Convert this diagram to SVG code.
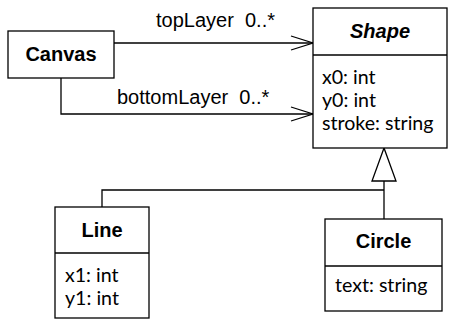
<svg xmlns="http://www.w3.org/2000/svg" width="450" height="326" viewBox="0 0 450 326">
<style>
.box{fill:#fff;stroke:#000;stroke-width:1.3}
.div{stroke:#000;stroke-width:1.3}
.title{font-family:"Liberation Sans",Arial,sans-serif;font-weight:bold;font-size:20px;text-anchor:middle;fill:#000}
.attr{font-family:Lato,"Liberation Sans",sans-serif;font-size:19.6px;fill:#000}
.lbl{font-family:"Liberation Sans",Arial,sans-serif;font-size:20px;fill:#000}
.conn{fill:none;stroke:#000;stroke-width:1.3}
</style>
<rect width="450" height="326" fill="#fff"/>
<g id="connectors">
<line class="conn" x1="114" y1="43" x2="313" y2="43"/>
<polyline class="conn" points="291,36 313,43 291,50"/>
<polyline class="conn" points="61,78 61,114 313,114"/>
<polyline class="conn" points="291,107 313,114 291,121"/>
<polyline class="conn" points="102,207 102,190 384,190"/>
<line class="conn" x1="384" y1="219" x2="384" y2="181"/>
<polygon points="384,148 372,181 396,181" fill="#fff" stroke="#000" stroke-width="1.3"/>
<text class="lbl" x="156" y="27" xml:space="preserve">topLayer  0..*</text>
<text class="lbl" x="117" y="104" xml:space="preserve">bottomLayer  0..*</text>
</g>
<g id="canvas">
<rect class="box" x="8" y="31" width="106" height="47"/>
<text class="title" x="61" y="61">Canvas</text>
</g>
<g id="shape">
<rect class="box" x="313" y="8" width="134" height="140"/>
<line class="div" x1="313" y1="55" x2="447" y2="55"/>
<text class="title" x="380" y="38" font-style="italic">Shape</text>
<text class="attr" x="322" y="84">x0: int</text>
<text class="attr" x="322" y="107">y0: int</text>
<text class="attr" x="322" y="130">stroke: string</text>
</g>
<g id="line">
<rect class="box" x="55" y="207" width="94" height="111"/>
<line class="div" x1="55" y1="253" x2="149" y2="253"/>
<text class="title" x="102" y="237">Line</text>
<text class="attr" x="65" y="282">x1: int</text>
<text class="attr" x="65" y="305">y1: int</text>
</g>
<g id="circle">
<rect class="box" x="325" y="219" width="117" height="92"/>
<line class="div" x1="325" y1="266" x2="442" y2="266"/>
<text class="title" x="383.5" y="248">Circle</text>
<text class="attr" x="335" y="292">text: string</text>
</g>
</svg>
